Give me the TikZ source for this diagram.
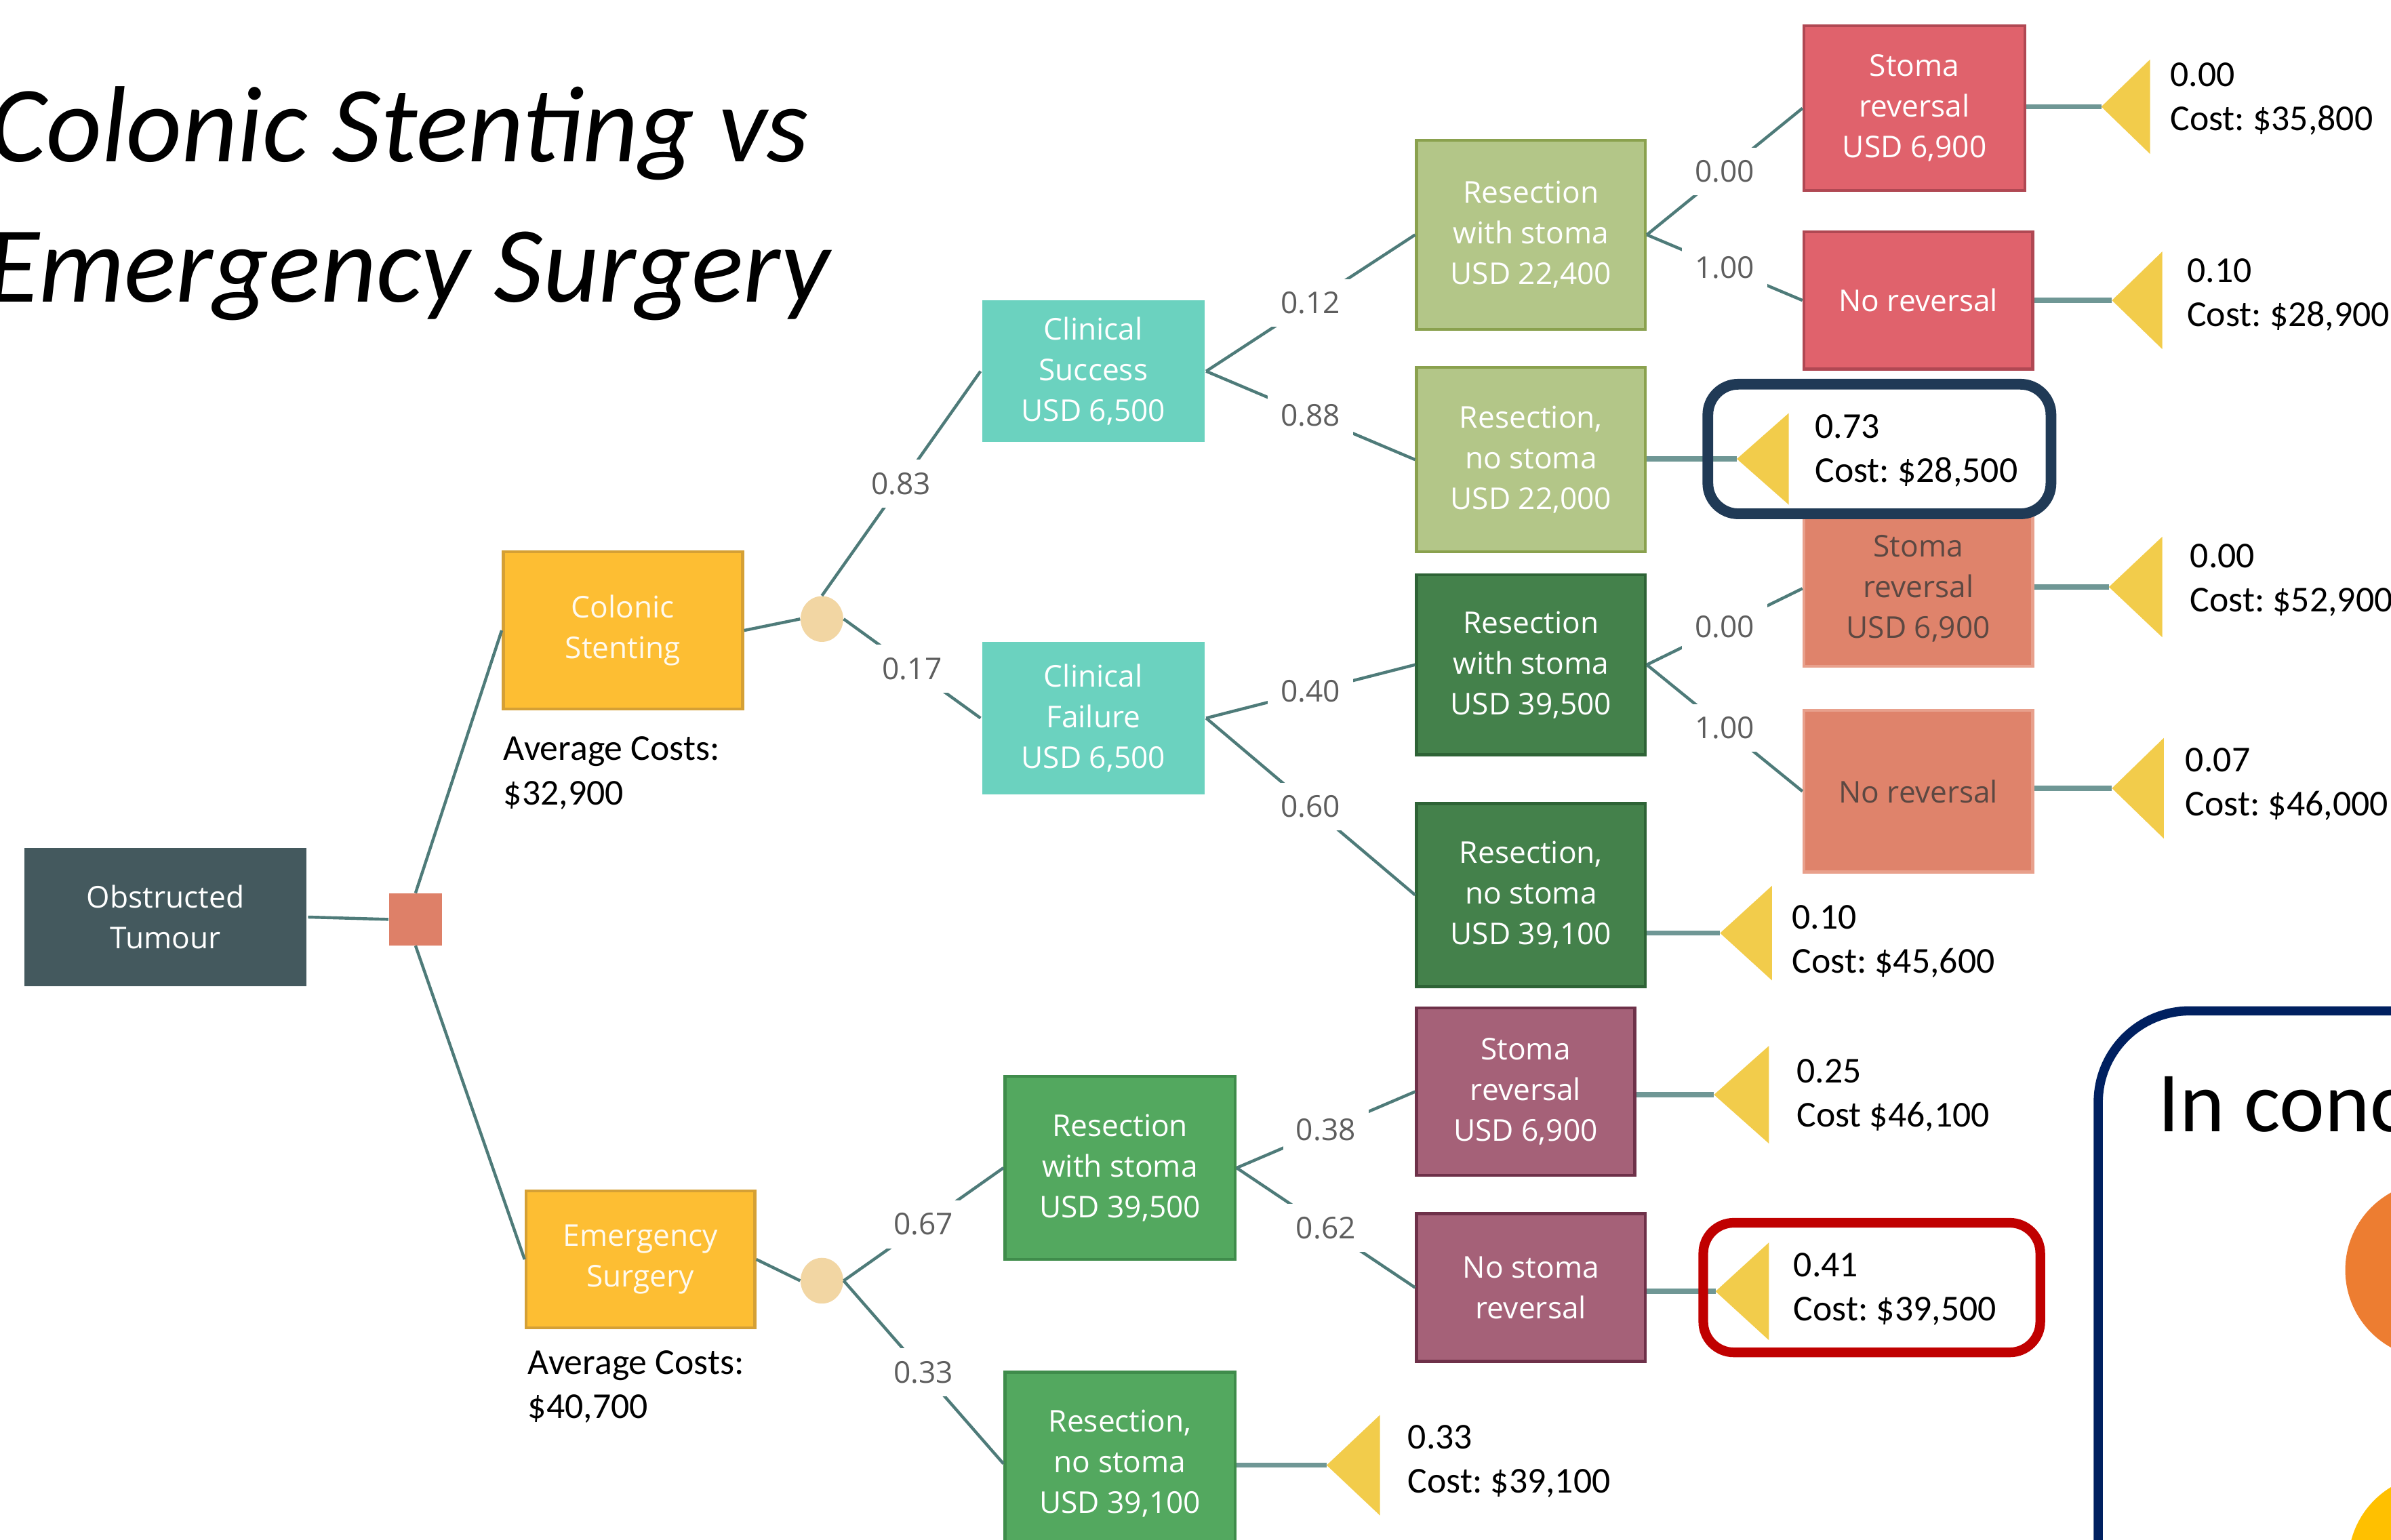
\documentclass[tikz,border=0pt]{standalone}
\usepackage{fontspec}
\setmainfont{Carlito}
\newfontfamily\boxfont{Open Sans}
\usepackage{xcolor}
\usepackage{tikz}
\usetikzlibrary{shapes.geometric}
\frenchspacing

\newlength{\unitpx}
\setlength{\unitpx}{0.025cm}

\definecolor{rootcol}{HTML}{44595E}
\definecolor{decisioncol}{HTML}{DE8068}
\definecolor{ambercol}{HTML}{FDBE33}
\definecolor{amberedge}{HTML}{D5A035}
\definecolor{peachcol}{HTML}{F2D6A3}
\definecolor{tealcol}{HTML}{6BD2BF}
\definecolor{olivecol}{HTML}{B3C688}
\definecolor{oliveedge}{HTML}{8AA14E}
\definecolor{redcol}{HTML}{E0626C}
\definecolor{rededge}{HTML}{B04853}
\definecolor{darkgreencol}{HTML}{44814B}
\definecolor{darkgreenedge}{HTML}{2E6336}
\definecolor{salmoncol}{HTML}{DF836B}
\definecolor{salmonedge}{HTML}{E8A08C}
\definecolor{salmontext}{HTML}{5C4842}
\definecolor{midgreencol}{HTML}{53A85F}
\definecolor{midgreenedge}{HTML}{3F8C4B}
\definecolor{purplecol}{HTML}{A56178}
\definecolor{purpleedge}{HTML}{6E3149}
\definecolor{leafcol}{HTML}{F2CC4B}
\definecolor{linecol}{HTML}{4E7B79}
\definecolor{leaflinecol}{HTML}{6F9795}
\definecolor{probgray}{HTML}{5E5E5E}
\definecolor{navyring}{HTML}{203A56}
\definecolor{redring}{HTML}{C00000}
\definecolor{concnavy}{HTML}{002060}
\definecolor{concorange}{HTML}{ED7D31}
\definecolor{concyellow}{HTML}{FFC000}

\tikzset{
  treebox/.style = {rectangle, inner sep=0pt, align=center, text=white, line width=1.4pt,
                    font=\boxfont\fontsize{14}{19}\selectfont},
  chance/.style = {ellipse, fill=peachcol, inner sep=0pt, minimum width=28\unitpx, minimum height=30\unitpx},
  branch/.style = {draw=linecol, line width=1.4pt},
  leafline/.style = {draw=leaflinecol, line width=2.4pt},
  prob/.style = {midway, fill=white, text=probgray, inner xsep=6pt, inner ysep=6pt,
                 font=\boxfont\fontsize{14}{17}\selectfont},
  leaf/.style = {fill=leafcol},
  costlabel/.style = {anchor=west, align=left, inner sep=0pt, font=\fontsize{17}{20.6}\selectfont},
  title/.style = {inner sep=0pt, font=\itshape\fontsize{50.5}{60}\selectfont}
}

\begin{document}
\begin{tikzpicture}[x=0.025cm, y=-0.025cm]
  \useasboundingbox (0,0) rectangle (1568,1010);
  \clip (0,0) rectangle (1568,1010);

  % title
  \node[title, anchor=base west] (titleA) at (-7,106) {Colonic Stenting vs};
  \node[title, anchor=base west] (titleB) at (-9,198) {Emergency Surgery};

  % root, decision and the two strategies
  \node[treebox, fill=rootcol, minimum width=185\unitpx, minimum height=91\unitpx] (tumour) at (108.5,601.5) {Obstructed\\Tumour};
  \node[rectangle, fill=decisioncol, minimum width=35\unitpx, minimum height=34\unitpx] (choice) at (272.5,603) {};
  \node[treebox, fill=ambercol, draw=amberedge, text=white!92!ambercol, minimum width=157\unitpx, minimum height=103\unitpx] (stent) at (408.5,413.5) {Colonic\\Stenting};
  \node[treebox, fill=ambercol, draw=amberedge, text=white!92!ambercol, minimum width=150\unitpx, minimum height=90\unitpx] (emerg) at (420,826) {Emergency\\Surgery};
  \node[costlabel] (avgS) at (330,507) {Average Costs:\\\$32,900};
  \node[costlabel] (avgE) at (346,909.5) {Average Costs:\\\$40,700};
  \node[chance] (chanceS) at (539,406) {};
  \node[chance] (chanceE) at (539,840) {};

  % colonic stenting branch
  \node[treebox, fill=tealcol, minimum width=146\unitpx, minimum height=93\unitpx] (success) at (717,243.5) {Clinical\\Success\\USD 6,500};
  \node[treebox, fill=tealcol, minimum width=146\unitpx, minimum height=100\unitpx] (failure) at (717,471) {Clinical\\Failure\\USD 6,500};
  \node[treebox, fill=olivecol, draw=oliveedge, minimum width=150\unitpx, minimum height=124\unitpx] (stomaA) at (1004,154) {Resection\\with stoma\\USD 22,400};
  \node[treebox, fill=olivecol, draw=oliveedge, minimum width=150\unitpx, minimum height=121\unitpx] (nostomaA) at (1004,301.5) {Resection,\\no stoma\\USD 22,000};
  \node[treebox, fill=redcol, draw=rededge, minimum width=145\unitpx, minimum height=108\unitpx] (reversalA) at (1255.5,71) {Stoma\\reversal\\USD 6,900};
  \node[treebox, fill=redcol, draw=rededge, minimum width=150\unitpx, minimum height=90\unitpx] (noreversalA) at (1258,197) {No reversal};
  \node[treebox, fill=darkgreencol, draw=darkgreenedge, minimum width=150\unitpx, minimum height=118\unitpx] (stomaB) at (1004,436) {Resection\\with stoma\\USD 39,500};
  \node[treebox, fill=darkgreencol, draw=darkgreenedge, minimum width=150\unitpx, minimum height=120\unitpx] (nostomaB) at (1004,587) {Resection,\\no stoma\\USD 39,100};
  \node[treebox, fill=salmoncol, draw=salmonedge, text=salmontext, minimum width=150\unitpx, minimum height=102\unitpx] (reversalB) at (1258,386) {Stoma\\reversal\\USD 6,900};
  \node[treebox, fill=salmoncol, draw=salmonedge, text=salmontext, minimum width=150\unitpx, minimum height=106\unitpx] (noreversalB) at (1258,519) {No reversal};

  % emergency surgery branch
  \node[treebox, fill=midgreencol, draw=midgreenedge, minimum width=151\unitpx, minimum height=120\unitpx] (stomaC) at (734.5,766) {Resection\\with stoma\\USD 39,500};
  \node[treebox, fill=midgreencol, draw=midgreenedge, minimum width=151\unitpx, minimum height=120\unitpx] (nostomaC) at (734.5,960) {Resection,\\no stoma\\USD 39,100};
  \node[treebox, fill=purplecol, draw=purpleedge, minimum width=143\unitpx, minimum height=110\unitpx] (reversalC) at (1000.5,716) {Stoma\\reversal\\USD 6,900};
  \node[treebox, fill=purplecol, draw=purpleedge, minimum width=150\unitpx, minimum height=97\unitpx] (noreversalC) at (1004,844.5) {No stoma\\reversal};

  % terminal triangles
  \coordinate (endA1) at (1378,70);
  \coordinate (endA2) at (1385,197);
  \coordinate (endA3) at (1139,301);
  \coordinate (endB1) at (1383,385);
  \coordinate (endB2) at (1385,517);
  \coordinate (endB3) at (1128,612);
  \coordinate (endC1) at (1124,718);
  \coordinate (endC2) at (1125,847);
  \coordinate (endC3) at (870,961);
  \fill[leaf] (endA1) -- ++(32,-31) -- ++(0,62) -- cycle;
  \fill[leaf] (endA2) -- ++(33,-32) -- ++(0,64) -- cycle;
  \fill[leaf] (endA3) -- ++(34,-30) -- ++(0,60) -- cycle;
  \fill[leaf] (endB1) -- ++(35,-33) -- ++(0,66) -- cycle;
  \fill[leaf] (endB2) -- ++(34,-33) -- ++(0,66) -- cycle;
  \fill[leaf] (endB3) -- ++(34,-31) -- ++(0,62) -- cycle;
  \fill[leaf] (endC1) -- ++(36,-32) -- ++(0,64) -- cycle;
  \fill[leaf] (endC2) -- ++(35,-32) -- ++(0,64) -- cycle;
  \fill[leaf] (endC3) -- ++(35,-33) -- ++(0,66) -- cycle;

  \node[costlabel] (costA1) at (1423,65) {0.00\\Cost: \$35,800};
  \node[costlabel] (costA2) at (1434,193.5) {0.10\\Cost: \$28,900};
  \node[costlabel] (costA3) at (1190,295.5) {0.73\\Cost: \$28,500};
  \node[costlabel] (costB1) at (1436,380.5) {0.00\\Cost: \$52,900};
  \node[costlabel] (costB2) at (1433,514.5) {0.07\\Cost: \$46,000};
  \node[costlabel] (costB3) at (1175,617.5) {0.10\\Cost: \$45,600};
  \node[costlabel] (costC1) at (1178,718.5) {0.25\\Cost \$46,100};
  \node[costlabel] (costC2) at (1176,845.5) {0.41\\Cost: \$39,500};
  \node[costlabel] (costC3) at (923,958.5) {0.33\\Cost: \$39,100};

  % connectors
  \draw[branch] (tumour.east) -- (choice.west);
  \draw[branch] (choice.north) -- (stent.west);
  \draw[branch] (choice.south) -- (emerg.west);
  \draw[branch] (stent.east) -- (chanceS.west);
  \draw[branch] (emerg.east) -- (chanceE.west);

  \draw[branch] (chanceS.north) -- node[prob]{0.83} (success.west);
  \draw[branch] (chanceS.east) -- node[prob]{0.17} (failure.west);
  \draw[branch] (success.east) -- node[prob]{0.12} (stomaA.west);
  \draw[branch] (success.east) -- node[prob]{0.88} (nostomaA.west);
  \draw[branch] (stomaA.east) -- node[prob]{0.00} (reversalA.west);
  \draw[branch] (stomaA.east) -- node[prob]{1.00} (noreversalA.west);
  \draw[branch] (failure.east) -- node[prob]{0.40} (stomaB.west);
  \draw[branch] (failure.east) -- node[prob]{0.60} (nostomaB.west);
  \draw[branch] (stomaB.east) -- node[prob]{0.00} (reversalB.west);
  \draw[branch] (stomaB.east) -- node[prob]{1.00} (noreversalB.west);

  \draw[branch] (chanceE.east) -- node[prob]{0.67} (stomaC.west);
  \draw[branch] (chanceE.east) -- node[prob]{0.33} (nostomaC.west);
  \draw[branch] (stomaC.east) -- node[prob]{0.38} (reversalC.west);
  \draw[branch] (stomaC.east) -- node[prob]{0.62} (noreversalC.west);

  \draw[leafline] (reversalA.east |- endA1) -- (endA1);
  \draw[leafline] (noreversalA.east |- endA2) -- (endA2);
  \draw[leafline] (nostomaA.east |- endA3) -- (endA3);
  \draw[leafline] (reversalB.east |- endB1) -- (endB1);
  \draw[leafline] (noreversalB.east |- endB2) -- (endB2);
  \draw[leafline] (nostomaB.east |- endB3) -- (endB3);
  \draw[leafline] (reversalC.east |- endC1) -- (endC1);
  \draw[leafline] (noreversalC.east |- endC2) -- (endC2);
  \draw[leafline] (nostomaC.east |- endC3) -- (endC3);

  % highlights
  \draw[navyring, line width=5pt, rounded corners=0.5cm] (1120,252) rectangle (1345,337);
  \draw[redring, line width=4.5pt, rounded corners=0.5cm] (1117,802) rectangle (1338,887);

  % conclusion panel
  \draw[concnavy, line width=4.3pt, rounded corners=1.5cm] (1376,663) rectangle (1800,1150);
  \node[anchor=base west, inner sep=0pt, font=\fontsize{40}{48}\selectfont] (concl) at (1415,742) {In conclusion};
  \fill[concorange] (1596,833) circle[radius=58];
  \fill[concyellow] (1598,1025) circle[radius=58];
\end{tikzpicture}
\end{document}
